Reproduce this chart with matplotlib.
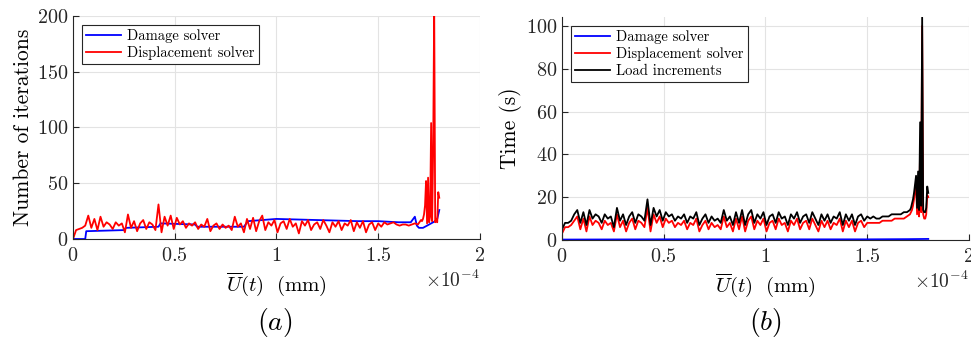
import numpy as np
import matplotlib.pyplot as plt
from matplotlib.ticker import ScalarFormatter

plt.rcParams['font.family'] = 'serif'
plt.rcParams['font.serif'] = ['cmr10']
plt.rcParams['mathtext.fontset'] = 'cm'
plt.rcParams['axes.unicode_minus'] = False
plt.rcParams['axes.formatter.use_mathtext'] = True

# displacement in units of 1e-4 mm
X_SCALE = 1e-4
x_main = np.linspace(0, 1.71, 115)          # regular load steps
x_tail = [1.715, 1.72, 1.725, 1.73, 1.735, 1.74, 1.745, 1.75, 1.755,
          1.76, 1.765, 1.77, 1.775, 1.78, 1.785, 1.79, 1.795, 1.80]

# (a) number of iterations
iters_disp_main = [0, 8, 9, 10, 12, 21, 10, 18, 8, 20,
                   11, 15, 13, 9, 15, 12, 14, 6, 22, 10,
                   16, 7, 14, 17, 9, 15, 13, 8, 31, 6,
                   20, 12, 21, 9, 19, 13, 16, 10, 14, 12,
                   15, 9, 13, 11, 18, 7, 12, 14, 9, 13,
                   10, 12, 8, 20, 11, 14, 6, 18, 9, 19,
                   7, 16, 21, 8, 15, 12, 17, 6, 14, 16,
                   9, 18, 11, 14, 5, 16, 12, 17, 8, 13,
                   15, 9, 17, 12, 6, 15, 11, 16, 8, 14,
                   12, 17, 7, 15, 10, 16, 6, 13, 15, 8,
                   14, 11, 15, 13, 14, 15, 13, 12, 13, 13,
                   12, 13, 14, 13, 17]
iters_disp_tail = [16, 18, 22, 30, 52, 14, 55, 15, 20,
                   104, 16, 80, 210, 15, 18, 15, 42, 37]

x_dmg_iters = [0, 0.06, 0.065, 0.25, 0.26, 0.42, 0.43, 0.6, 0.61, 0.84, 0.86,
               1.0, 1.2, 1.4, 1.5, 1.6, 1.66, 1.68, 1.69, 1.7, 1.72, 1.74,
               1.76, 1.78, 1.79, 1.8]
iters_dmg = [0, 0, 7, 8, 10, 11, 14, 13, 11, 11, 16,
             18, 17, 16, 16, 15, 15, 20, 12, 10, 10, 12,
             14, 16, 18, 26]

# (b) time
time_load_main = [5, 8, 8, 9, 12, 14, 8, 13, 7, 14,
                  10, 12, 11, 8, 12, 10, 11, 6, 15, 9,
                  12, 7, 11, 13, 8, 12, 11, 9, 19, 7,
                  15, 11, 14, 9, 13, 11, 12, 9, 11, 10,
                  12, 8, 11, 10, 13, 7, 10, 12, 8, 11,
                  9, 10, 8, 14, 9, 11, 7, 13, 8, 14,
                  7, 12, 14, 8, 12, 10, 13, 7, 11, 12,
                  8, 13, 10, 11, 7, 12, 10, 13, 8, 11,
                  12, 8, 13, 10, 7, 12, 9, 12, 8, 11,
                  10, 13, 7, 12, 9, 12, 7, 11, 12, 9,
                  11, 10, 11, 10, 10, 11, 11, 11, 12, 12,
                  12, 12, 13, 13, 14]
time_load_tail = [15, 17, 19, 22, 26, 30, 15, 32, 14,
                  55, 16, 104, 14, 13, 13, 15, 25, 22]

time_disp_main = [3, 6, 6, 7, 9, 11, 5, 10, 4, 11,
                  7, 9, 8, 5, 9, 7, 8, 4, 12, 6,
                  9, 4, 8, 10, 5, 9, 8, 6, 15, 4,
                  12, 8, 11, 6, 10, 8, 9, 6, 8, 7,
                  9, 5, 8, 7, 10, 4, 7, 9, 5, 8,
                  6, 7, 5, 11, 6, 8, 4, 10, 5, 11,
                  4, 9, 11, 5, 9, 7, 10, 4, 8, 9,
                  5, 10, 7, 8, 4, 9, 7, 10, 5, 8,
                  9, 5, 10, 7, 4, 9, 6, 9, 5, 8,
                  7, 10, 4, 9, 6, 9, 4, 8, 9, 6,
                  8, 8, 8, 8, 8, 9, 9, 9, 9, 10,
                  10, 10, 10, 11, 12]
time_disp_tail = [13, 14, 16, 19, 23, 27, 12, 29, 11,
                  44, 13, 100, 12, 10, 10, 12, 21, 20]

x_dmg_time = [0, 0.5, 1.0, 1.5, 1.7, 1.8]
time_dmg = [0.2, 0.3, 0.3, 0.3, 0.4, 0.5]

x_all = np.concatenate([x_main, x_tail]) * X_SCALE
iters_disp = np.concatenate([iters_disp_main, iters_disp_tail])
time_load = np.concatenate([time_load_main, time_load_tail])
time_disp = np.concatenate([time_disp_main, time_disp_tail])


class ShortFormatter(ScalarFormatter):
    # tick labels like 0, 0.5, 1 instead of 0.0, 0.5, 1.0
    def _set_format(self):
        self.format = r'$\mathdefault{%g}$'


fig = plt.figure(figsize=(9.71, 3.43), dpi=100)
ax1 = fig.add_axes([0.0752, 0.3032, 0.4191, 0.6502])
ax2 = fig.add_axes([0.5788, 0.3003, 0.4191, 0.6502])

lw = 1.3
ax1.plot(np.array(x_dmg_iters) * X_SCALE, iters_dmg, color='#0000ff', lw=lw, label='Damage solver')
ax1.plot(x_all, iters_disp, color='#ff0000', lw=lw, label='Displacement solver')
ax1.set_ylim(0, 200)
ax1.set_yticks([0, 50, 100, 150, 200])
ax1.set_ylabel('Number of iterations', fontsize=15.5, labelpad=3)

ax2.plot(np.array(x_dmg_time) * X_SCALE, time_dmg, color='#0000ff', lw=lw, label='Damage solver')
ax2.plot(x_all, time_disp, color='#ff0000', lw=lw, label='Displacement solver')
ax2.plot(x_all, time_load, color='k', lw=lw, label='Load increments')
ax2.set_ylim(0, 104.2)
ax2.set_yticks([0, 20, 40, 60, 80, 100])
ax2.set_ylabel('Time (s)', fontsize=15.5, labelpad=3)

for ax in (ax1, ax2):
    ax.set_xlim(0, 2e-4)
    ax.set_xticks([0, 0.5e-4, 1e-4, 1.5e-4, 2e-4])
    fmt = ShortFormatter(useMathText=True)
    fmt.set_powerlimits((-3, 3))
    ax.xaxis.set_major_formatter(fmt)
    ax.xaxis.get_offset_text().set_fontsize(14)
    ax.xaxis.get_offset_text().set_color('#262626')
    ax.set_xlabel(r'$\overline{U}(t)\ \ (\mathrm{mm})$', fontsize=15, labelpad=4)
    ax.spines['top'].set_visible(False)
    ax.spines['right'].set_visible(False)
    for s in ('left', 'bottom'):
        ax.spines[s].set_color('#262626')
        ax.spines[s].set_linewidth(0.8)
    ax.tick_params(direction='in', length=4, labelsize=14.5, colors='#262626')
    ax.tick_params(axis='x', pad=6)
    ax.grid(True, color='#e3e3e3', lw=0.8)
    ax.set_axisbelow(True)
    leg = ax.legend(loc='upper left', fontsize=10.5, fancybox=False,
                    edgecolor='#262626', framealpha=1, handlelength=2.4,
                    borderpad=0.3, labelspacing=0.2, handletextpad=0.4,
                    borderaxespad=0.6)
    leg.get_frame().set_linewidth(0.8)

fig.text(0.2834, 0.06, r'$(a)$', ha='center', va='center', fontsize=20)
fig.text(0.7880, 0.06, r'$(b)$', ha='center', va='center', fontsize=20)

fig.savefig('out.png', dpi=100)
